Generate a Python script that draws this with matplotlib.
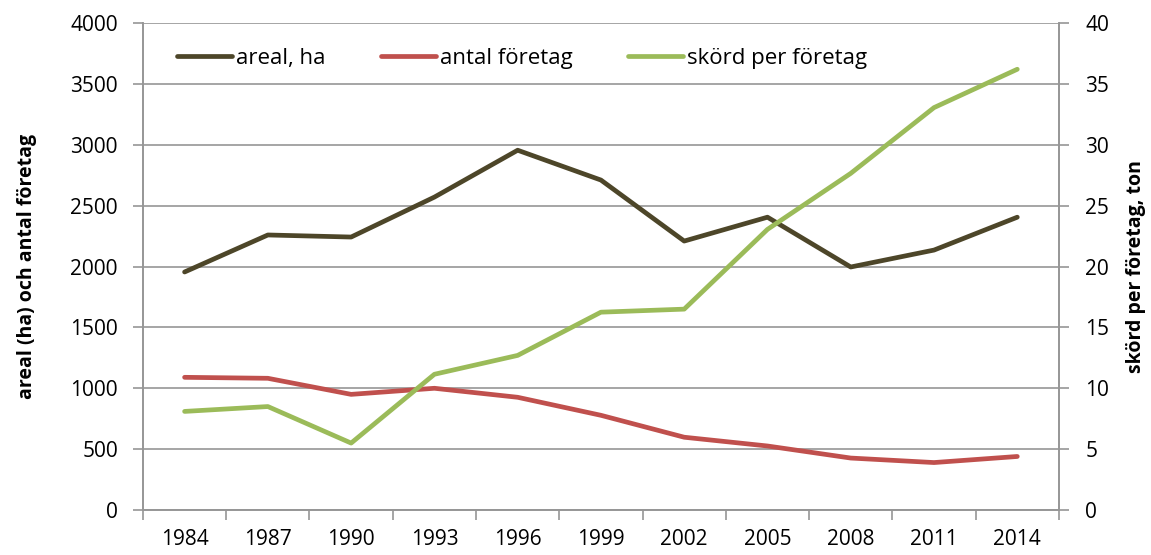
import numpy as np
import matplotlib
matplotlib.use("Agg")
import matplotlib.pyplot as plt

years = ["1984", "1987", "1990", "1993", "1996", "1999", "2002", "2005", "2008", "2011", "2014"]
areal_ha = [1955, 2259, 2242, 2570, 2955, 2710, 2209, 2405, 1996, 2135, 2405]
antal_foretag = [1090, 1082, 950, 1000, 926, 778, 598, 526, 427, 390, 440]
skord_per_foretag = [8.1, 8.5, 5.5, 11.15, 12.7, 16.25, 16.5, 23.05, 27.65, 33.05, 36.2]

plt.rcParams["font.family"] = ["Open Sans", "DejaVu Sans"]

grid_c = "#969696"
fig = plt.figure(figsize=(11.51, 5.55), dpi=100)
ax = fig.add_axes([0.1242, 0.081, 0.7958, 0.8776])
ax2 = ax.twinx()

x = np.arange(len(years))
l1, = ax.plot(x, areal_ha, color="#4D4629", lw=3.4, solid_capstyle="round", label="areal, ha")
l2, = ax.plot(x, antal_foretag, color="#C0504D", lw=3.4, solid_capstyle="round", label="antal företag")
l3, = ax2.plot(x, skord_per_foretag, color="#9BBB59", lw=3.4, solid_capstyle="round", label="skörd per företag")

ax.set_xlim(-0.5, len(years) - 0.5)
ax.set_ylim(0, 4000)
ax2.set_ylim(0, 40)
ax.set_yticks(np.arange(0, 4001, 500))
ax2.set_yticks(np.arange(0, 41, 5))
ax.yaxis.grid(True, color=grid_c, lw=1.2)
ax.set_axisbelow(True)

fs = 15
ax.set_xticks(x)
ax.set_xticklabels(years)
ax.set_xticks(np.arange(-0.5, len(years), 1), minor=True)
ax.tick_params(axis="x", which="major", length=0, pad=14, labelsize=fs)
ax.tick_params(axis="x", which="minor", length=7, width=1.2, color=grid_c, direction="out")
ax.tick_params(axis="y", length=7, width=1.2, color=grid_c, labelsize=fs, pad=11)
ax2.tick_params(axis="y", length=7, width=1.2, color=grid_c, labelsize=fs, pad=12)

for a in (ax, ax2):
    a.spines["top"].set_visible(False)
    for s in ("left", "right", "bottom"):
        a.spines[s].set_color(grid_c)
        a.spines[s].set_linewidth(1.2)

ax.set_ylabel("areal (ha) och antal företag", fontsize=14, fontweight="bold", labelpad=24)
ax2.set_ylabel("skörd per företag, ton", fontsize=14, fontweight="bold", labelpad=12)

ax.legend(handles=[l1, l2, l3], loc="upper left", bbox_to_anchor=(0.015, 0.99), ncol=3,
          frameon=False, fontsize=16, handlelength=2.5, handletextpad=0.15,
          columnspacing=2.5)

plt.savefig("out.png", dpi=100)
